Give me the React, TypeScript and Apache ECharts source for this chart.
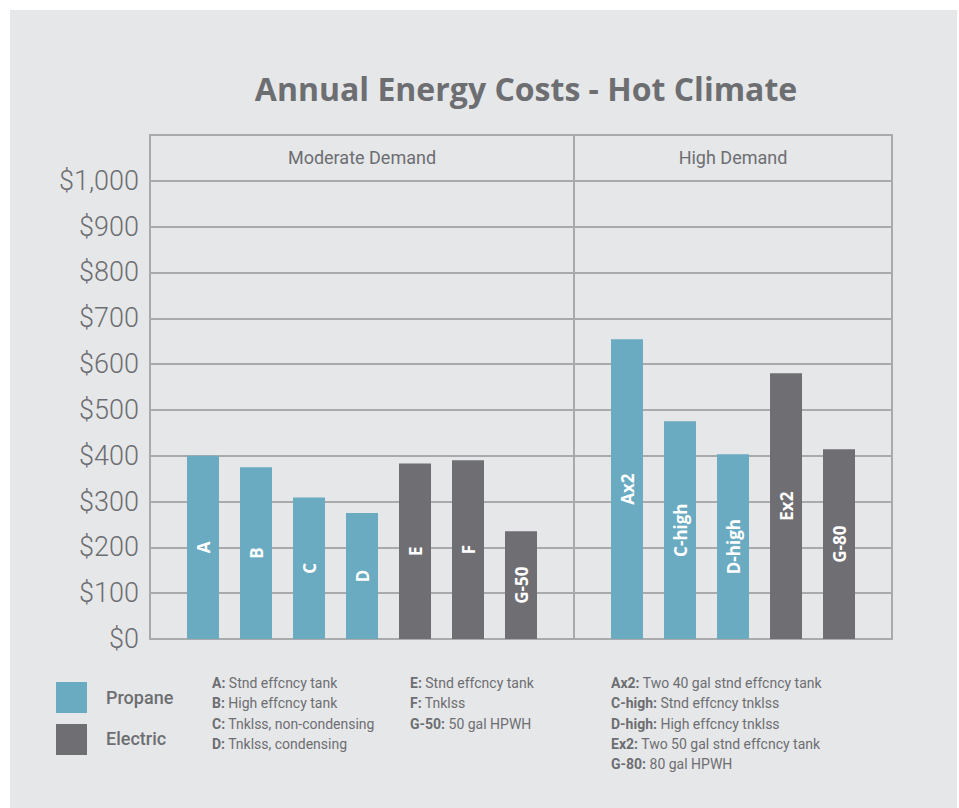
import React, { useEffect, useRef } from "react";
import * as echarts from "echarts";

// ---- Data ----
const moderateCategories = ["A", "B", "C", "D", "E", "F", "G-50"];
const moderateValues = [400, 375, 309, 275, 383, 390, 235];
const moderateFuel = ["Propane", "Propane", "Propane", "Propane", "Electric", "Electric", "Electric"];

const highCategories = ["Ax2", "C-high", "D-high", "Ex2", "G-80"];
const highValues = [654, 475, 403, 580, 414];
const highFuel = ["Propane", "Propane", "Propane", "Electric", "Electric"];

const groupNames = ["Moderate Demand", "High Demand"];
const fuels = ["Propane", "Electric"];

const yTicks = [0, 100, 200, 300, 400, 500, 600, 700, 800, 900, 1000];

const notesCol1 = [
  ["A", "Stnd effcncy tank"],
  ["B", "High effcncy tank"],
  ["C", "Tnklss, non-condensing"],
  ["D", "Tnklss, condensing"],
];
const notesCol2 = [
  ["E", "Stnd effcncy tank"],
  ["F", "Tnklss"],
  ["G-50", "50 gal HPWH"],
];
const notesCol3 = [
  ["Ax2", "Two 40 gal stnd effcncy tank"],
  ["C-high", "Stnd effcncy tnklss"],
  ["D-high", "High effcncy tnklss"],
  ["Ex2", "Two 50 gal stnd effcncy tank"],
  ["G-80", "80 gal HPWH"],
];

const COLORS: Record<string, string> = { Propane: "#6aabc2", Electric: "#6f6e73" };
const TEXT = "#6d6e71";
const GRID = "#a9aaac";
const FONT = "Roboto";

export default function App() {
  const ref = useRef<HTMLDivElement>(null);

  useEffect(() => {
    if (!ref.current) return;
    const chart = echarts.init(ref.current, undefined, { renderer: "svg" });

    // slot positions: moderate at 1..7, divider at 8, high at 9..13, axis 0..14
    const modStart = 1;
    const divider = moderateCategories.length + 1;
    const highStart = divider + 1;
    const xMax = highStart + highCategories.length;

    const items: { x: number; y: number; name: string; fuel: string }[] = [];
    moderateCategories.forEach((c, i) =>
      items.push({ x: modStart + i, y: moderateValues[i], name: c, fuel: moderateFuel[i] })
    );
    highCategories.forEach((c, i) =>
      items.push({ x: highStart + i, y: highValues[i], name: c, fuel: highFuel[i] })
    );

    const yMax = yTicks[yTicks.length - 1] + 100;

    const series: any[] = fuels.map((f, fi) => ({
      type: "bar",
      name: f,
      stack: "all",
      barWidth: 32,
      itemStyle: { color: COLORS[f] },
      label: {
        show: true,
        position: "inside",
        rotate: 90,
        formatter: "{b}",
        color: "#ffffff",
        fontFamily: "Open Sans",
        fontWeight: "bold",
        fontSize: 17,
      },
      data: items
        .filter((it) => it.fuel === f)
        .map((it) => ({ value: [it.x, it.y], name: it.name })),
      ...(fi === 0
        ? {
            markLine: {
              silent: true,
              symbol: "none",
              label: { show: false },
              lineStyle: { color: GRID, width: 2, type: "solid" },
              data: [{ xAxis: divider }],
            },
            markArea: {
              silent: true,
              itemStyle: { color: "rgba(0,0,0,0)" },
              label: {
                show: true,
                position: "inside",
                color: TEXT,
                fontFamily: FONT,
                fontSize: 18,
              },
              data: [
                [
                  { name: groupNames[0], xAxis: 0, yAxis: yTicks[yTicks.length - 1] },
                  { xAxis: divider, yAxis: yMax },
                ],
                [
                  { name: groupNames[1], xAxis: divider, yAxis: yTicks[yTicks.length - 1] },
                  { xAxis: xMax, yAxis: yMax },
                ],
              ],
            },
          }
        : {}),
    }));

    const noteText = (rows: string[][]) =>
      rows.map((r) => `{b|${r[0]}:} ${r[1]}`).join("\n");

    const noteStyle = (x: number, rows: string[][]) => ({
      type: "text",
      left: x,
      top: 673,
      style: {
        text: noteText(rows),
        fill: TEXT,
        font: `14px ${FONT}`,
        lineHeight: 20.3,
        rich: {
          b: { fontWeight: "bold", fill: TEXT, fontSize: 14, fontFamily: FONT, lineHeight: 20.3 },
        },
      },
    });

    chart.setOption({
      animation: false,
      backgroundColor: "transparent",
      title: {
        text: "Annual Energy Costs - Hot Climate",
        left: 521,
        top: 67,
        textAlign: "center",
        textStyle: {
          color: TEXT,
          fontFamily: "Open Sans",
          fontWeight: "bold",
          fontSize: 32,
        },
      },
      grid: {
        left: 150,
        right: 67,
        top: 135,
        bottom: 169,
        show: true,
        borderColor: GRID,
        borderWidth: 2,
        backgroundColor: "transparent",
      },
      xAxis: {
        type: "value",
        min: 0,
        max: xMax,
        axisLine: { show: false },
        axisTick: { show: false },
        axisLabel: { show: false },
        splitLine: { show: false },
      },
      yAxis: {
        type: "value",
        min: 0,
        max: yMax,
        interval: 100,
        axisLine: { show: false },
        axisTick: { show: false },
        axisLabel: {
          color: TEXT,
          fontFamily: FONT,
          fontWeight: 300,
          fontSize: 27,
          margin: 11,
          formatter: (v: number) =>
            yTicks.includes(v) ? "$" + v.toLocaleString("en-US") : "",
        },
        splitLine: { show: true, lineStyle: { color: GRID, width: 2 } },
      },
      series,
      graphic: [
        {
          type: "rect",
          left: 56,
          top: 682,
          shape: { width: 31, height: 31 },
          style: { fill: COLORS.Propane },
        },
        {
          type: "rect",
          left: 56,
          top: 724,
          shape: { width: 31, height: 31 },
          style: { fill: COLORS.Electric },
        },
        {
          type: "text",
          left: 106,
          top: 688,
          style: { text: fuels[0], fill: TEXT, font: `500 18px ${FONT}` },
        },
        {
          type: "text",
          left: 106,
          top: 729,
          style: { text: fuels[1], fill: TEXT, font: `500 18px ${FONT}` },
        },
        noteStyle(212, notesCol1),
        noteStyle(410, notesCol2),
        noteStyle(611, notesCol3),
      ],
    });

    return () => chart.dispose();
  }, []);

  return (
    <div
      style={{
        position: "fixed",
        left: 0,
        top: 0,
        width: 959,
        height: 808,
        background: "#ffffff",
      }}
    >
      <div
        style={{
          position: "absolute",
          left: 10,
          top: 10,
          width: 947,
          height: 798,
          background: "#e6e7e9",
        }}
      />
      <div
        ref={ref}
        style={{ position: "absolute", left: 0, top: 0, width: 959, height: 808 }}
      />
    </div>
  );
}
